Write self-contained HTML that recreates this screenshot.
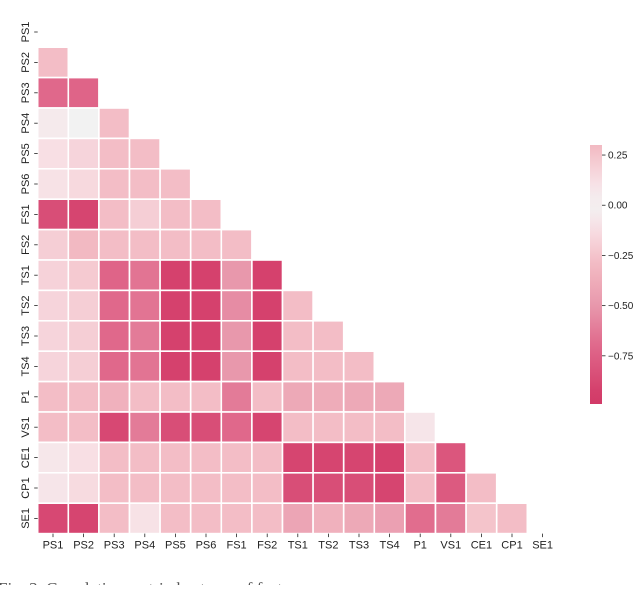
<!DOCTYPE html>
<html><head><meta charset="utf-8"><style>
body{margin:0;background:#fff;width:640px;height:585px;overflow:hidden;font-family:"Liberation Sans",sans-serif}
</style></head><body>
<svg id="chart" width="640" height="585" xmlns="http://www.w3.org/2000/svg">
<defs><linearGradient id="cbgrad" x1="0" y1="0" x2="0" y2="1"></linearGradient></defs>
<g id="cells"></g>
<g id="xlabels"></g>
<g id="ylabels"></g>
<g id="cbar"></g>
<text x="-2" y="594" font-family="Liberation Serif" font-size="17" fill="#555">Fig. 3.   Correlation matrix heatmap of features</text>
</svg>
<script>
const labels = ["PS1","PS2","PS3","PS4","PS5","PS6","FS1","FS2","TS1","TS2","TS3","TS4","P1","VS1","CE1","CP1","SE1"];
const rowsPS2 = [0.28];
const rowsPS3 = [-0.7,-0.72];
const rowsPS4 = [0.05,0.0,0.28];
const rowsPS5 = [0.12,0.17,0.28,0.28];
const rowsPS6 = [0.1,0.15,0.28,0.28,0.28];
const rowsFS1 = [-0.85,-0.9,0.28,0.2,0.28,0.28];
const rowsFS2 = [0.2,0.3,0.28,0.28,0.28,0.28,0.28];
const rowsTS1 = [0.18,0.22,-0.72,-0.65,-0.92,-0.92,-0.5,-0.92];
const rowsTS2 = [0.17,0.2,-0.7,-0.65,-0.92,-0.92,-0.55,-0.92,0.28];
const rowsTS3 = [0.17,0.2,-0.7,-0.62,-0.92,-0.92,-0.5,-0.92,0.28,0.28];
const rowsTS4 = [0.17,0.2,-0.7,-0.65,-0.92,-0.92,-0.5,-0.92,0.28,0.28,0.28];
const rowsP1 = [0.28,0.28,-0.35,0.28,0.28,0.28,-0.62,0.28,-0.4,-0.38,-0.4,-0.4];
const rowsVS1 = [0.28,0.28,-0.88,-0.62,-0.85,-0.85,-0.7,-0.9,0.28,0.28,0.28,0.28,-0.08];
const rowsCE1 = [0.07,0.12,0.28,0.28,0.28,0.28,0.28,0.28,-0.9,-0.9,-0.9,-0.92,0.28,-0.8];
const rowsCP1 = [0.08,0.14,0.28,0.28,0.28,0.28,0.28,0.28,-0.85,-0.85,-0.85,-0.9,0.28,-0.78,0.28];
const rowsSE1 = [-0.88,-0.9,0.28,0.1,0.28,0.28,0.28,0.28,-0.42,-0.35,-0.4,-0.45,-0.68,-0.62,0.25,0.28];
const matrix = [[],rowsPS2,rowsPS3,rowsPS4,rowsPS5,rowsPS6,rowsFS1,rowsFS2,rowsTS1,rowsTS2,rowsTS3,rowsTS4,rowsP1,rowsVS1,rowsCE1,rowsCP1,rowsSE1];
const cbTicks = [0.25,0.0,-0.25,-0.5,-0.75];
const cbTickLabels = ["0.25","0.00","\u22120.25","\u22120.50","\u22120.75"];
const vmin = -0.99, vmax = 0.30;

const NS="http://www.w3.org/2000/svg";
const L=37.7, T=16.8, CW=30.6, CH=30.4;
const xPos = i => L + i*CW;
const yPos = i => T + i*CH;
const stops=[[0,[242,242,242]],[0.12,[248,223,228]],[0.3,[242,185,194]],[0.5,[232,152,172]],[0.7,[224,104,139]],[0.95,[211,60,105]],[1.1,[208,52,98]]];
function color(v){const a=Math.abs(v);for(let k=1;k<stops.length;k++){if(a<=stops[k][0]){const [a0,c0]=stops[k-1],[a1,c1]=stops[k];const t=(a-a0)/(a1-a0);return 'rgb('+c0.map((c,i)=>Math.round(c+(c1[i]-c)*t)).join(',')+')';}}return 'rgb(208,52,98)';}
function mk(tag,attrs,parent){const e=document.createElementNS(NS,tag);for(const k in attrs)e.setAttribute(k,attrs[k]);parent.appendChild(e);return e;}
const cells=document.getElementById('cells');
matrix.forEach((row,i)=>row.forEach((v,j)=>{
  const r=mk('rect',{x:xPos(j),y:yPos(i),width:CW,height:CH,fill:color(v),stroke:'#fff','stroke-width':1.6},cells);
  
  
}));
const xg=document.getElementById('xlabels'), yg=document.getElementById('ylabels');
labels.forEach((lab,i)=>{
  const cx=xPos(i)+CW/2, by=T+17*CH;
  mk('line',{x1:cx,y1:by,x2:cx,y2:by+3.5,stroke:'#222','stroke-width':0.8},xg);
  const t=mk('text',{x:cx,y:by+15,'text-anchor':'middle','font-size':11,fill:'#222'},xg);t.textContent=lab;
  
  
  const cy=yPos(i)+CH/2;
  mk('line',{x1:L-3.5,y1:cy,x2:L,y2:cy,stroke:'#222','stroke-width':0.8},yg);
  const u=mk('text',{x:0,y:0,'text-anchor':'middle','font-size':11,fill:'#222',transform:'translate(29,'+cy+') rotate(-90)'},yg);u.textContent=lab;
  
  
});
const CBX=590, CBW=12, CBT=145, CBB=404;
const cbY = v => CBT + (vmax - v)/(vmax - vmin)*(CBB-CBT);
const grad=document.getElementById('cbgrad');
for(let k=0;k<=20;k++){const v=vmax-(vmax-vmin)*k/20;mk('stop',{offset:(k/20),'stop-color':color(v)},grad);}
const cb=document.getElementById('cbar');
const rr=mk('rect',{x:CBX,y:CBT,width:CBW,height:CBB-CBT,fill:'url(#cbgrad)'},cb);


cbTicks.forEach((v,i)=>{
  const y=cbY(v);
  mk('line',{x1:CBX+CBW,y1:y,x2:CBX+CBW+3.5,y2:y,stroke:'#222','stroke-width':0.8},cb);
  const t=mk('text',{x:CBX+CBW+6,y:y+3.5,'font-size':10,fill:'#222'},cb);t.textContent=cbTickLabels[i];
  
  
});
</script>
</body></html>
